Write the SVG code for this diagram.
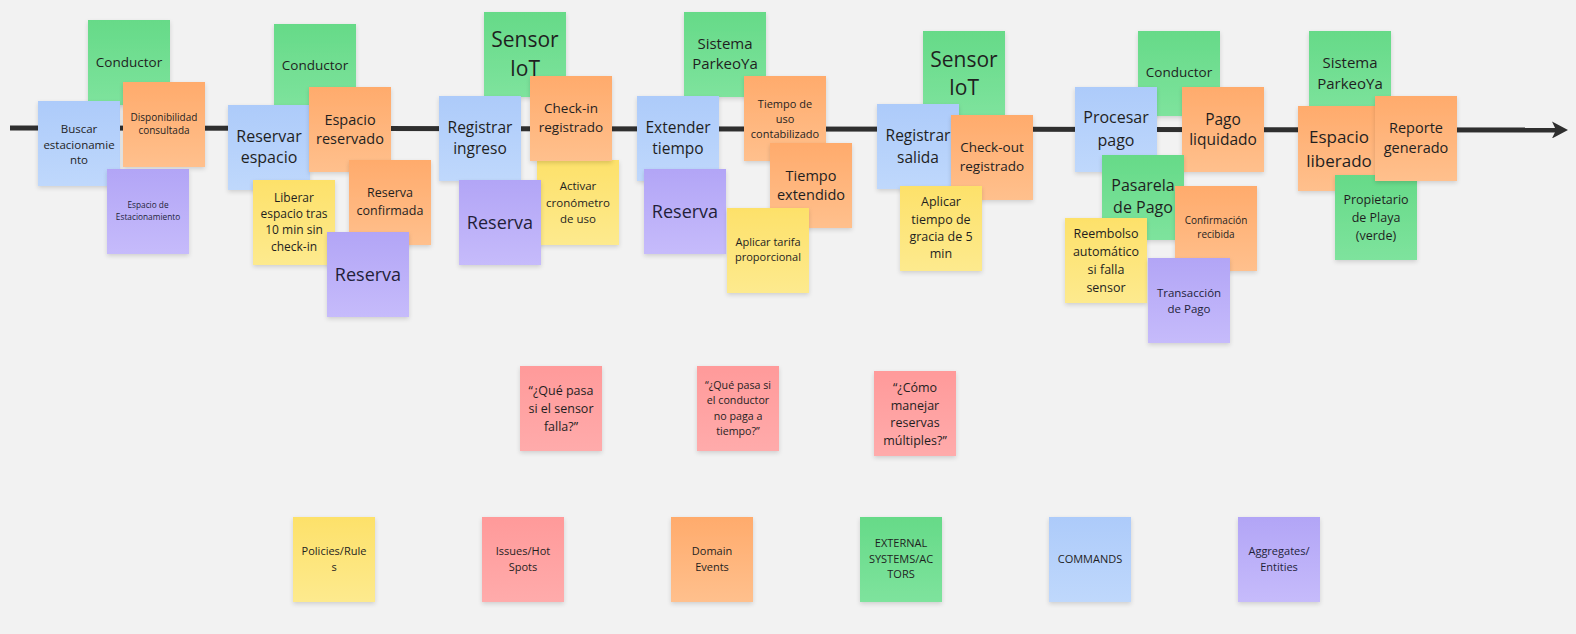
<svg xmlns="http://www.w3.org/2000/svg" width="1576" height="634" viewBox="0 0 1576 634">
<defs>
<linearGradient id="gGreen" x1="0" y1="0" x2="0" y2="1"><stop offset="0" stop-color="#66da88"/><stop offset="1" stop-color="#7ee39d"/></linearGradient>
<linearGradient id="gBlue" x1="0" y1="0" x2="0" y2="1"><stop offset="0" stop-color="#adcbfa"/><stop offset="1" stop-color="#bfd8fc"/></linearGradient>
<linearGradient id="gOrange" x1="0" y1="0" x2="0" y2="1"><stop offset="0" stop-color="#ffab6c"/><stop offset="1" stop-color="#ffc08d"/></linearGradient>
<linearGradient id="gPurple" x1="0" y1="0" x2="0" y2="1"><stop offset="0" stop-color="#b2a5f6"/><stop offset="1" stop-color="#c6bbfb"/></linearGradient>
<linearGradient id="gYellow" x1="0" y1="0" x2="0" y2="1"><stop offset="0" stop-color="#fde16a"/><stop offset="1" stop-color="#fdea8e"/></linearGradient>
<linearGradient id="gPink" x1="0" y1="0" x2="0" y2="1"><stop offset="0" stop-color="#ff9a9a"/><stop offset="1" stop-color="#ffabab"/></linearGradient>
<filter id="shadow" x="-20%" y="-20%" width="140%" height="150%">
<feDropShadow dx="0" dy="2" stdDeviation="2" flood-color="#000" flood-opacity="0.14"/>
</filter>
<marker id="arrow" viewBox="0 0 16 17" refX="5" refY="8.5" markerWidth="16" markerHeight="17" markerUnits="userSpaceOnUse" orient="auto">
<path d="M0,0 L16,8.5 L0,17 L4,8.5 Z" fill="#2f2f2f"/>
</marker>
</defs>
<style>
.note rect { width: 82px; height: 85px; filter: url(#shadow); }
.green rect { fill: url(#gGreen); }
.blue rect { fill: url(#gBlue); }
.orange rect { fill: url(#gOrange); }
.purple rect { fill: url(#gPurple); }
.yellow rect { fill: url(#gYellow); }
.pink rect { fill: url(#gPink); }
.note text { font-family: "Open Sans", "Noto Sans", "DejaVu Sans", sans-serif; fill: #1f1f1f; text-anchor: middle; dominant-baseline: central; }
.purple text { fill: #231f3a; }
.timeline { stroke: #2f2f2f; stroke-width: 5; fill: none; }
</style>
<rect x="0" y="0" width="1576" height="634" fill="#f2f2f2"/>

<g id="connectors">
<line class="timeline" x1="10" y1="128" x2="1557" y2="130" marker-end="url(#arrow)"/>
</g>

<!-- Step 1 -->
<g id="conductor-1" class="note green"><rect x="88" y="20" width="82" height="85"/><text x="129" y="62" font-size="13.5">Conductor</text></g>
<g id="buscar-estacionamiento" class="note blue"><rect x="38" y="101" width="82" height="85"/><text font-size="11.5"><tspan x="79" y="128">Buscar</tspan><tspan x="79" y="144">estacionamie</tspan><tspan x="79" y="159">nto</tspan></text></g>
<g id="disponibilidad-consultada" class="note orange"><rect x="123" y="82" width="82" height="85"/><text font-size="10"><tspan x="164" y="117">Disponibilidad</tspan><tspan x="164" y="130">consultada</tspan></text></g>
<g id="espacio-estacionamiento" class="note purple"><rect x="107" y="169" width="82" height="85"/><text font-size="8.3"><tspan x="148" y="204">Espacio de</tspan><tspan x="148" y="216">Estacionamiento</tspan></text></g>

<!-- Step 2 -->
<g id="conductor-2" class="note green"><rect x="274" y="24" width="82" height="85"/><text x="315" y="65" font-size="13.5">Conductor</text></g>
<g id="reservar-espacio" class="note blue"><rect x="228" y="105" width="82" height="85"/><text font-size="16"><tspan x="269" y="136">Reservar</tspan><tspan x="269" y="157">espacio</tspan></text></g>
<g id="espacio-reservado" class="note orange"><rect x="309" y="87" width="82" height="85"/><text font-size="14.5"><tspan x="350" y="119">Espacio</tspan><tspan x="350" y="138">reservado</tspan></text></g>
<g id="liberar-espacio" class="note yellow"><rect x="253" y="180" width="82" height="85"/><text font-size="12"><tspan x="294" y="197">Liberar</tspan><tspan x="294" y="213">espacio tras</tspan><tspan x="294" y="229">10 min sin</tspan><tspan x="294" y="246">check-in</tspan></text></g>
<g id="reserva-confirmada" class="note orange"><rect x="349" y="160" width="82" height="85"/><text font-size="12.5"><tspan x="390" y="192">Reserva</tspan><tspan x="390" y="210">confirmada</tspan></text></g>
<g id="reserva-1" class="note purple"><rect x="327" y="232" width="82" height="85"/><text x="368" y="274" font-size="18">Reserva</text></g>

<!-- Step 3 -->
<g id="sensor-iot-1" class="note green"><rect x="484" y="12" width="82" height="85"/><text font-size="21"><tspan x="525" y="39">Sensor</tspan><tspan x="525" y="68">IoT</tspan></text></g>
<g id="registrar-ingreso" class="note blue"><rect x="439" y="96" width="82" height="85"/><text font-size="15.5"><tspan x="480" y="127">Registrar</tspan><tspan x="480" y="148">ingreso</tspan></text></g>
<g id="activar-cronometro" class="note yellow"><rect x="537" y="160" width="82" height="85"/><text font-size="11.5"><tspan x="578" y="185">Activar</tspan><tspan x="578" y="202">cronómetro</tspan><tspan x="578" y="218">de uso</tspan></text></g>
<g id="checkin-registrado" class="note orange"><rect x="530" y="76" width="82" height="85"/><text font-size="13.5"><tspan x="571" y="108">Check-in</tspan><tspan x="571" y="127">registrado</tspan></text></g>
<g id="reserva-2" class="note purple"><rect x="459" y="180" width="82" height="85"/><text x="500" y="222" font-size="18">Reserva</text></g>

<!-- Step 4 -->
<g id="sistema-parkeoya-1" class="note green"><rect x="684" y="12" width="82" height="85"/><text font-size="15"><tspan x="725" y="43">Sistema</tspan><tspan x="725" y="63">ParkeoYa</tspan></text></g>
<g id="extender-tiempo" class="note blue"><rect x="637" y="96" width="82" height="85"/><text font-size="15.5"><tspan x="678" y="127">Extender</tspan><tspan x="678" y="148">tiempo</tspan></text></g>
<g id="reserva-3" class="note purple"><rect x="644" y="169" width="82" height="85"/><text x="685" y="211" font-size="18">Reserva</text></g>
<g id="tiempo-uso-contabilizado" class="note orange"><rect x="744" y="76" width="82" height="85"/><text font-size="11"><tspan x="785" y="103">Tiempo de</tspan><tspan x="785" y="118">uso</tspan><tspan x="785" y="133">contabilizado</tspan></text></g>
<g id="tiempo-extendido" class="note orange"><rect x="770" y="143" width="82" height="85"/><text font-size="14.5"><tspan x="811" y="175">Tiempo</tspan><tspan x="811" y="194">extendido</tspan></text></g>
<g id="aplicar-tarifa" class="note yellow"><rect x="727" y="208" width="82" height="85"/><text font-size="11"><tspan x="768" y="241">Aplicar tarifa</tspan><tspan x="768" y="256">proporcional</tspan></text></g>

<!-- Step 5 -->
<g id="sensor-iot-2" class="note green"><rect x="923" y="31" width="82" height="85"/><text font-size="21"><tspan x="964" y="59">Sensor</tspan><tspan x="964" y="87">IoT</tspan></text></g>
<g id="registrar-salida" class="note blue"><rect x="877" y="104" width="82" height="85"/><text font-size="15.5"><tspan x="918" y="135">Registrar</tspan><tspan x="918" y="157">salida</tspan></text></g>
<g id="checkout-registrado" class="note orange"><rect x="951" y="115" width="82" height="85"/><text font-size="13.5"><tspan x="992" y="147">Check-out</tspan><tspan x="992" y="166">registrado</tspan></text></g>
<g id="tiempo-gracia" class="note yellow"><rect x="900" y="186" width="82" height="85"/><text font-size="12.5"><tspan x="941" y="201">Aplicar</tspan><tspan x="941" y="219">tiempo de</tspan><tspan x="941" y="236">gracia de 5</tspan><tspan x="941" y="253">min</tspan></text></g>

<!-- Step 6 -->
<g id="conductor-3" class="note green"><rect x="1138" y="31" width="82" height="85"/><text x="1179" y="72" font-size="13.5">Conductor</text></g>
<g id="procesar-pago" class="note blue"><rect x="1075" y="87" width="82" height="85"/><text font-size="16"><tspan x="1116" y="117">Procesar</tspan><tspan x="1116" y="140">pago</tspan></text></g>
<g id="pago-liquidado" class="note orange"><rect x="1182" y="87" width="82" height="85"/><text font-size="15.5"><tspan x="1223" y="119">Pago</tspan><tspan x="1223" y="139">liquidado</tspan></text></g>
<g id="pasarela-pago" class="note green"><rect x="1102" y="155" width="82" height="85"/><text font-size="16"><tspan x="1143" y="185">Pasarela</tspan><tspan x="1143" y="207">de Pago</tspan></text></g>
<g id="confirmacion-recibida" class="note orange"><rect x="1175" y="186" width="82" height="85"/><text font-size="10"><tspan x="1216" y="220">Confirmación</tspan><tspan x="1216" y="234">recibida</tspan></text></g>
<g id="reembolso-automatico" class="note yellow"><rect x="1065" y="218" width="82" height="85"/><text font-size="12.5"><tspan x="1106" y="233">Reembolso</tspan><tspan x="1106" y="251">automático</tspan><tspan x="1106" y="269">si falla</tspan><tspan x="1106" y="287">sensor</tspan></text></g>
<g id="transaccion-pago" class="note purple"><rect x="1148" y="258" width="82" height="85"/><text font-size="11.5"><tspan x="1189" y="292">Transacción</tspan><tspan x="1189" y="308">de Pago</tspan></text></g>

<!-- Step 7 -->
<g id="sistema-parkeoya-2" class="note green"><rect x="1309" y="31" width="82" height="85"/><text font-size="15"><tspan x="1350" y="62">Sistema</tspan><tspan x="1350" y="83">ParkeoYa</tspan></text></g>
<g id="espacio-liberado" class="note orange"><rect x="1298" y="106" width="82" height="85"/><text font-size="17"><tspan x="1339" y="136">Espacio</tspan><tspan x="1339" y="160">liberado</tspan></text></g>
<g id="propietario-playa" class="note green"><rect x="1335" y="175" width="82" height="85"/><text font-size="12.5"><tspan x="1376" y="199">Propietario</tspan><tspan x="1376" y="217">de Playa</tspan><tspan x="1376" y="235">(verde)</tspan></text></g>
<g id="reporte-generado" class="note orange"><rect x="1375" y="96" width="82" height="85"/><text font-size="14.5"><tspan x="1416" y="127">Reporte</tspan><tspan x="1416" y="147">generado</tspan></text></g>

<!-- Hot spots -->
<g id="issue-sensor" class="note pink"><rect x="520" y="366" width="82" height="85"/><text font-size="12.5"><tspan x="561" y="390">“¿Qué pasa</tspan><tspan x="561" y="408">si el sensor</tspan><tspan x="561" y="426">falla?”</tspan></text></g>
<g id="issue-pago" class="note pink"><rect x="697" y="366" width="82" height="85"/><text font-size="10.7"><tspan x="738" y="385">“¿Qué pasa si</tspan><tspan x="738" y="400">el conductor</tspan><tspan x="738" y="416">no paga a</tspan><tspan x="738" y="431">tiempo?”</tspan></text></g>
<g id="issue-reservas" class="note pink"><rect x="874" y="371" width="82" height="85"/><text font-size="12.5"><tspan x="915" y="387">“¿Cómo</tspan><tspan x="915" y="405">manejar</tspan><tspan x="915" y="422">reservas</tspan><tspan x="915" y="440">múltiples?”</tspan></text></g>

<!-- Legend -->
<g id="legend-policies" class="note yellow"><rect x="293" y="517" width="82" height="85"/><text font-size="11"><tspan x="334" y="550">Policies/Rule</tspan><tspan x="334" y="566">s</tspan></text></g>
<g id="legend-issues" class="note pink"><rect x="482" y="517" width="82" height="85"/><text font-size="11"><tspan x="523" y="550">Issues/Hot</tspan><tspan x="523" y="566">Spots</tspan></text></g>
<g id="legend-events" class="note orange"><rect x="671" y="517" width="82" height="85"/><text font-size="11"><tspan x="712" y="550">Domain</tspan><tspan x="712" y="566">Events</tspan></text></g>
<g id="legend-external" class="note green"><rect x="860" y="517" width="82" height="85"/><text font-size="11"><tspan x="901" y="542">EXTERNAL</tspan><tspan x="901" y="558">SYSTEMS/AC</tspan><tspan x="901" y="573">TORS</tspan></text></g>
<g id="legend-commands" class="note blue"><rect x="1049" y="517" width="82" height="85"/><text x="1090" y="558" font-size="11">COMMANDS</text></g>
<g id="legend-aggregates" class="note purple"><rect x="1238" y="517" width="82" height="85"/><text font-size="11"><tspan x="1279" y="550">Aggregates/</tspan><tspan x="1279" y="566">Entities</tspan></text></g>
</svg>
